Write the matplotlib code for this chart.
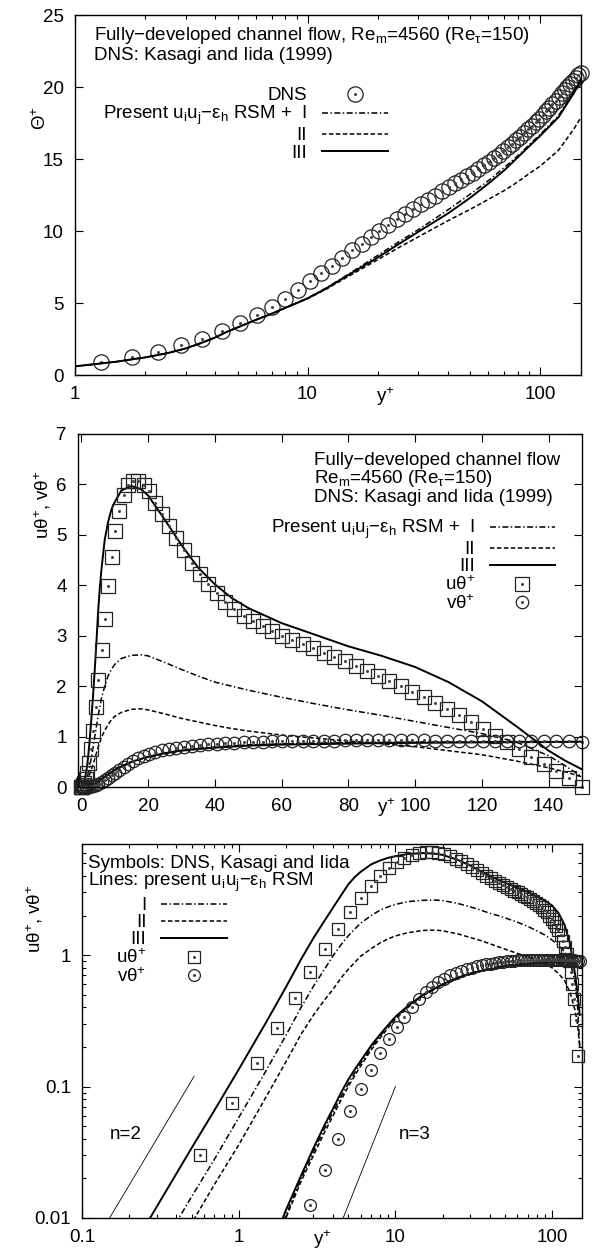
import numpy as np
import matplotlib
matplotlib.use("Agg")
from matplotlib import pyplot as plt
import matplotlib.ticker as ticker
from matplotlib.lines import Line2D

plt.rcParams["font.family"] = ["Liberation Sans", "DejaVu Sans"]
plt.rcParams["font.size"] = 13.5
plt.rcParams["mathtext.fontset"] = "custom"
plt.rcParams["mathtext.rm"] = "Liberation Sans"
plt.rcParams["mathtext.it"] = "Liberation Sans:italic"
plt.rcParams["mathtext.bf"] = "Liberation Sans:bold"
plt.rcParams["lines.scale_dashes"] = False
plt.rcParams["axes.linewidth"] = 1.0

# ---- DNS (Kasagi & Iida 1999) ----
dns_yp = [0.0, 0.04, 0.14, 0.33, 0.57, 0.90, 1.30, 1.75, 2.28, 2.87,
          3.53, 4.30, 5.13, 6.05, 7.00, 8.00, 9.10, 10.2, 11.4, 12.7,
          14.1, 15.6, 17.1, 18.7, 20.3, 22.2, 24.2, 26.3, 28.5, 30.8,
          33.1, 35.5, 38.0, 40.5, 43.1, 45.8, 48.6, 51.4, 54.3, 57.2,
          60.2, 63.2, 66.3, 69.4, 72.6, 75.8, 79.0, 82.3, 85.6, 88.9,
          92.3, 95.7, 99.1, 102.6, 106.1, 109.6, 113.1, 116.7, 120.3, 123.9,
          127.5, 131.1, 134.8, 138.5, 142.2, 146.0, 150.0]

dns_theta = [0.0, 0.03, 0.1, 0.23, 0.4, 0.64,
             0.92, 1.24, 1.62, 2.05, 2.52, 3.05, 3.6, 4.15, 4.72, 5.3,
             5.92, 6.5, 7.05, 7.6, 8.15, 8.65, 9.12, 9.55, 9.98, 10.4,
             10.8, 11.15, 11.5, 11.85, 12.15, 12.45, 12.75, 13.05, 13.3, 13.55,
             13.8, 14.05, 14.3, 14.55, 14.8, 15.05, 15.3, 15.55, 15.8, 16.05,
             16.3, 16.55, 16.8, 17.05, 17.3, 17.55, 17.8, 18.05, 18.3, 18.55,
             18.8, 19.05, 19.3, 19.55, 19.8, 20.0, 20.2, 20.4, 20.6, 20.8, 20.95]

dns_ut = [0.0, 0.0001, 0.0015, 0.009, 0.03, 0.075, 0.15, 0.28, 0.47, 0.75,
          1.12, 1.58, 2.13, 2.72, 3.33, 3.98, 4.57, 5.07, 5.47, 5.8,
          5.98, 6.06, 6.06, 5.98, 5.87, 5.64, 5.41, 5.17, 4.93, 4.69,
          4.45, 4.22, 4.02, 3.85, 3.67, 3.52, 3.40, 3.29, 3.19, 3.09,
          3.0, 2.92, 2.83, 2.75, 2.66, 2.58, 2.49, 2.40, 2.31, 2.21,
          2.11, 2.0, 1.89, 1.78, 1.67, 1.55, 1.42, 1.28, 1.15, 1.02,
          0.9, 0.75, 0.6, 0.46, 0.32, 0.17, 0.0]

dns_vt = [0.0, 0.0, 0.0, 0.00002, 0.0001, 0.0004, 0.0012, 0.0029, 0.0063, 0.0125,
          0.023, 0.04, 0.065, 0.095, 0.133, 0.18, 0.23, 0.285, 0.34, 0.4,
          0.46, 0.52, 0.57, 0.62, 0.66, 0.7, 0.73, 0.76, 0.78, 0.8,
          0.82, 0.835, 0.85, 0.86, 0.87, 0.88, 0.89, 0.895, 0.9, 0.905,
          0.91, 0.915, 0.915, 0.92, 0.92, 0.92, 0.925, 0.925, 0.925, 0.925,
          0.925, 0.925, 0.925, 0.925, 0.92, 0.92, 0.92, 0.92, 0.915, 0.915,
          0.915, 0.91, 0.91, 0.91, 0.905, 0.905, 0.9]

# ---- present RSM, mean temperature ----
th_yp = [1, 1.5, 2, 2.5, 3, 3.5, 4, 4.5, 5, 6, 7, 8, 10, 12, 15, 20, 25, 30,
         40, 50, 60, 70, 80, 90, 100, 120, 140, 150]
th_I = [0.6, 0.92, 1.22, 1.52, 1.85, 2.23, 2.6, 3.0, 3.3, 3.83, 4.25, 4.65, 5.34,
        6.03, 7.0, 8.3, 9.3, 10.1, 11.45, 12.55, 13.5, 14.4, 15.2, 16.0, 16.7,
        18.0, 19.7, 20.6]
th_II = [0.6, 0.92, 1.22, 1.52, 1.85, 2.23, 2.6, 3.0, 3.3, 3.83, 4.25, 4.65, 5.3,
         5.95, 6.85, 8.0, 8.9, 9.6, 10.7, 11.5, 12.2, 12.8, 13.4, 14.0, 14.5,
         15.6, 17.1, 17.9]
th_III = [0.6, 0.92, 1.22, 1.52, 1.85, 2.23, 2.6, 3.0, 3.3, 3.83, 4.25, 4.65, 5.32,
          6.0, 6.95, 8.15, 9.15, 9.95, 11.2, 12.3, 13.3, 14.2, 15.1, 15.9, 16.6,
          17.9, 19.6, 20.5]

# ---- present RSM, heat fluxes ----
m_yp = [0.2, 0.3, 0.5, 0.7, 1.0, 1.5, 2.0, 2.5, 3.0, 3.5, 4.0, 4.5, 5.0, 5.5, 6.0,
        7.0, 8.0, 9.0, 10, 12, 15, 18, 20, 25, 30, 35, 40, 45, 50, 60, 70, 80,
        90, 100, 110, 120, 130, 140, 145, 150]
ut_I = [0.0023, 0.0052, 0.0145, 0.028, 0.058, 0.133, 0.245, 0.4, 0.58, 0.77, 0.99,
        1.2, 1.4, 1.58, 1.75, 2.0, 2.2, 2.33, 2.43, 2.55, 2.61, 2.62, 2.6, 2.47,
        2.33, 2.2, 2.08, 2.0, 1.92, 1.78, 1.65, 1.53, 1.42, 1.3, 1.18, 1.06, 0.9,
        0.62, 0.42, 0.2]
ut_II = [0.0015, 0.0033, 0.0091, 0.018, 0.036, 0.084, 0.154, 0.25, 0.35, 0.45, 0.55,
         0.67, 0.78, 0.88, 0.98, 1.12, 1.24, 1.33, 1.4, 1.48, 1.54, 1.55, 1.53, 1.45,
         1.36, 1.29, 1.22, 1.16, 1.11, 1.03, 0.97, 0.91, 0.86, 0.8, 0.72, 0.64,
         0.52, 0.38, 0.3, 0.2]
ut_III = [0.0054, 0.0122, 0.034, 0.066, 0.135, 0.31, 0.57, 0.93, 1.35, 1.8, 2.3,
          2.85, 3.45, 3.92, 4.3, 4.9, 5.25, 5.5, 5.65, 5.88, 5.97, 5.9, 5.78, 5.3,
          4.8, 4.35, 4.02, 3.75, 3.55, 3.25, 3.02, 2.79, 2.6, 2.38, 2.08, 1.7, 1.22,
          0.72, 0.52, 0.35]
vt_I = [0.00001, 0.00003, 0.00015, 0.0004, 0.0012, 0.0042, 0.0105, 0.02, 0.032,
        0.047, 0.064, 0.084, 0.105, 0.127, 0.15, 0.197, 0.243, 0.29, 0.335, 0.405,
        0.495, 0.56, 0.6, 0.675, 0.73, 0.765, 0.79, 0.815, 0.835, 0.855, 0.87,
        0.88, 0.885, 0.89, 0.895, 0.9, 0.9, 0.9, 0.9, 0.9]
vt_II = [0.00001, 0.00003, 0.00014, 0.0004, 0.0011, 0.004, 0.01, 0.019, 0.03,
         0.044, 0.06, 0.079, 0.1, 0.121, 0.143, 0.19, 0.235, 0.28, 0.325, 0.4,
         0.49, 0.555, 0.59, 0.66, 0.72, 0.755, 0.785, 0.81, 0.83, 0.85, 0.865,
         0.875, 0.88, 0.885, 0.89, 0.89, 0.89, 0.89, 0.89, 0.89]
vt_III = [0.00001, 0.00004, 0.00018, 0.0005, 0.0014, 0.0047, 0.0115, 0.021, 0.034,
          0.05, 0.068, 0.09, 0.113, 0.135, 0.157, 0.205, 0.25, 0.295, 0.34, 0.41,
          0.5, 0.56, 0.6, 0.67, 0.72, 0.755, 0.78, 0.8, 0.82, 0.84, 0.85, 0.86,
          0.87, 0.875, 0.88, 0.885, 0.89, 0.89, 0.895, 0.9]

# slope guides on the log plot
n2_x = [0.15, 0.52]
n2_y = [0.01, 0.12]
n3_x = [4.64, 10.0]
n3_y = [0.01, 0.1]

DASHDOT = (4.3, 1.8, 1.0, 1.8)
DASH = (3.2, 1.8)
LW = 1.1
RSM = "Present u$_\\mathrm{i}$u$_\\mathrm{j}$\u2212\u03b5$_\\mathrm{h}$ RSM +  I"
YP = "y$^{+}$"
UTVT = "u\u03b8$^{+}$, v\u03b8$^{+}$"


def ticks(ax):
    ax.tick_params(which="both", direction="in", top=True, right=True, pad=8,
                   width=0.8)
    ax.tick_params(which="major", length=6)
    ax.tick_params(which="minor", length=3)


def fmt(v, p):
    return "%g" % v


def model(ax, x, a, b, c):
    ax.plot(x, a, color="k", lw=LW, dashes=DASHDOT)
    ax.plot(x, b, color="k", lw=LW, dashes=DASH)
    ax.plot(x, c, color="k", lw=LW + 0.3)


def sym(ax, x, y, m, ms, xmin=None, ymin=None):
    # points inside the axis range are drawn whole, as gnuplot does
    x = np.asarray(x)
    y = np.asarray(y)
    keep = np.ones(len(x), bool)
    if xmin is not None:
        keep &= x >= xmin
    if ymin is not None:
        keep &= y >= ymin
    x, y = x[keep], y[keep]
    ax.plot(x, y, ls="none", marker=m, ms=ms, mfc="none", mec="#222222",
            mew=0.9, clip_on=False)
    ax.plot(x, y, ls="none", marker="o", ms=1.2, color="#444444", clip_on=False)


def handle(m, ms):
    a = Line2D([], [], ls="none", marker=m, ms=ms, mfc="none", mec="#222222", mew=0.9)
    b = Line2D([], [], ls="none", marker="o", ms=1.2, color="#444444")
    return (a, b)


line_h = [Line2D([], [], color="k", lw=LW, dashes=DASHDOT),
          Line2D([], [], color="k", lw=LW, dashes=DASH),
          Line2D([], [], color="k", lw=LW + 0.3)]
leg_kw = dict(frameon=False, markerfirst=False, handlelength=3.5, handletextpad=0.8,
              labelspacing=0.0, borderpad=0, borderaxespad=0, loc="upper right",
              numpoints=1)

W, H = 592, 1255
fig = plt.figure(figsize=(W / 100, H / 100), dpi=100)

# ---------------- panel 1: mean temperature ----------------
ax1 = fig.add_axes([75 / W, (H - 375) / H, 506 / W, 360 / H])
sym(ax1, dns_yp, dns_theta, "o", 11, xmin=1)
model(ax1, th_yp, th_I, th_II, th_III)
ax1.set_xscale("log")
ax1.set_xlim(1, 150)
ax1.set_ylim(0, 25)
ax1.set_yticks([0, 5, 10, 15, 20, 25])
ax1.set_xticks([1, 10, 100])
ax1.xaxis.set_major_formatter(ticker.FuncFormatter(fmt))
ax1.xaxis.set_minor_locator(ticker.LogLocator(subs=np.arange(2, 10)))
ax1.xaxis.set_minor_formatter(ticker.NullFormatter())
ticks(ax1)
ax1.set_xlabel(YP)
ax1.xaxis.set_label_coords(0.613, -0.028)
ax1.set_ylabel("\u0398$^{+}$")
ax1.yaxis.set_label_coords(-0.05, 0.714)
ax1.text(0.037, 0.944, "Fully\u2212developed channel flow, Re$_\\mathrm{m}$=4560 (Re$_\\mathrm{\u03c4}$=150)",
         transform=ax1.transAxes, va="center", ha="left")
ax1.text(0.037, 0.887, "DNS: Kasagi and Iida (1999)",
         transform=ax1.transAxes, va="center", ha="left")
ax1.legend([handle("o", 11)] + line_h, ["DNS", RSM, "II", "III"],
           bbox_to_anchor=(0.618, 0.8), **leg_kw)

# ---------------- panel 2: heat fluxes, linear ----------------
ax2 = fig.add_axes([78 / W, (H - 787) / H, 504 / W, 353 / H])
model(ax2, m_yp, ut_I, ut_II, ut_III)
model(ax2, m_yp, vt_I, vt_II, vt_III)
sym(ax2, dns_yp, dns_ut, "s", 10)
sym(ax2, dns_yp, dns_vt, "o", 9)
ax2.set_xlim(-1, 150)
ax2.set_ylim(0, 7)
ax2.set_xticks(np.arange(0, 141, 20))
ax2.set_yticks(np.arange(0, 8, 1))
ticks(ax2)
ax2.set_xlabel(YP)
ax2.xaxis.set_label_coords(0.612, -0.026)
ax2.set_ylabel(UTVT)
ax2.yaxis.set_label_coords(-0.05, 0.8)
ax2.text(0.469, 0.95, "Fully\u2212developed channel flow\nRe$_\\mathrm{m}$=4560 (Re$_\\mathrm{\u03c4}$=150)\nDNS: Kasagi and Iida (1999)",
         transform=ax2.transAxes, va="top", ha="left", linespacing=0.98)
ax2.legend(line_h + [handle("s", 10), handle("o", 9)],
           [RSM, "II", "III", "u\u03b8$^{+}$", "v\u03b8$^{+}$"],
           bbox_to_anchor=(0.947, 0.762), **leg_kw)

# ---------------- panel 3: heat fluxes, log-log ----------------
ax3 = fig.add_axes([82 / W, (H - 1218) / H, 500 / W, 374 / H])
model(ax3, m_yp, ut_I, ut_II, ut_III)
model(ax3, m_yp, vt_I, vt_II, vt_III)
sym(ax3, dns_yp, dns_ut, "s", 9, xmin=0.1, ymin=0.01)
sym(ax3, dns_yp, dns_vt, "o", 8.5, xmin=0.1, ymin=0.01)
ax3.plot(n2_x, n2_y, color="k", lw=0.6)
ax3.plot(n3_x, n3_y, color="k", lw=0.6)
ax3.text(0.19, 0.043, "n=2", ha="center", va="center")
ax3.text(13.2, 0.043, "n=3", ha="center", va="center")
ax3.set_xscale("log")
ax3.set_yscale("log")
ax3.set_xlim(0.1, 155)
ax3.set_ylim(0.01, 7)
ax3.set_xticks([0.1, 1, 10, 100])
ax3.set_yticks([0.01, 0.1, 1])
for a in (ax3.xaxis, ax3.yaxis):
    a.set_major_formatter(ticker.FuncFormatter(fmt))
    a.set_minor_locator(ticker.LogLocator(subs=np.arange(2, 10)))
    a.set_minor_formatter(ticker.NullFormatter())
ticks(ax3)
ax3.set_xlabel(YP)
ax3.xaxis.set_label_coords(0.48, -0.028)
ax3.set_ylabel(UTVT)
ax3.yaxis.set_label_coords(-0.074, 0.8)
ax3.text(0.013, 0.949, "Symbols: DNS, Kasagi and Iida", transform=ax3.transAxes,
         va="center", ha="left")
ax3.text(0.013, 0.896, "Lines: present u$_\\mathrm{i}$u$_\\mathrm{j}$\u2212\u03b5$_\\mathrm{h}$ RSM",
         transform=ax3.transAxes, va="center", ha="left")
ax3.legend(line_h + [handle("s", 9), handle("o", 8.5)],
           ["I", "II", "III", "u\u03b8$^{+}$", "v\u03b8$^{+}$"],
           bbox_to_anchor=(0.29, 0.858), **leg_kw)

fig.savefig("out.png", dpi=100)
